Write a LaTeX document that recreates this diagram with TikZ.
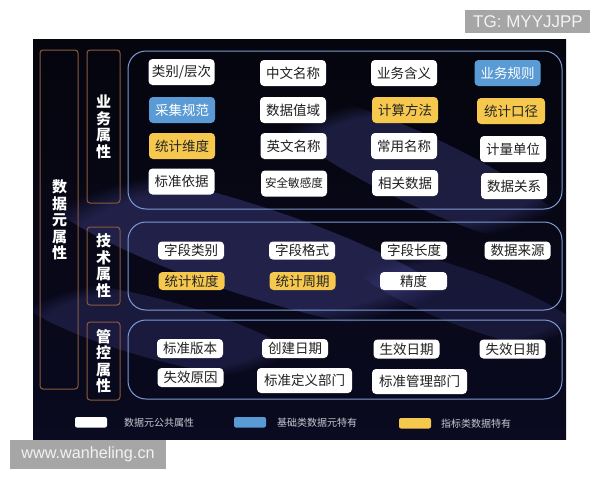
\documentclass[tikz,border=0pt]{standalone}
\usepackage{fontspec}
\setmainfont{Liberation Sans}
\newfontfamily\cjk{Noto Sans CJK SC}
\usetikzlibrary{fadings}
\definecolor{bgtop}{HTML}{05050E}
\definecolor{bgmid}{HTML}{1C1C48}
\definecolor{bgbot}{HTML}{0A0A20}
\definecolor{neb}{HTML}{5050A8}
\definecolor{panelline}{HTML}{7E9CD2}
\definecolor{brownline}{HTML}{8C5A3C}
\definecolor{pillblue}{HTML}{5B9BD5}
\definecolor{pillyellow}{HTML}{F6C84E}
\definecolor{wmgray}{HTML}{A6A6A6}
\definecolor{legtext}{HTML}{C8C8D4}
\tikzset{
  pill/.style={rectangle, rounded corners=4pt, fill=white, text=black!88, inner sep=0pt,
    minimum width=66pt, minimum height=26pt, font=\cjk\fontsize{13.5}{15}\selectfont},
  pillsm/.style={pill, minimum height=18pt},
  bluep/.style={fill=pillblue, text=white},
  yellowp/.style={fill=pillyellow, text=black!85},
  panel/.style={draw=panelline, line width=1pt, rounded corners=18pt},
  brownbox/.style={draw=brownline, line width=1pt, rounded corners=3pt},
  vlabel/.style={text=white, align=center, inner sep=0pt,
    font=\cjk\bfseries\fontsize{15}{16.5}\selectfont},
  swatch/.style={rounded corners=2pt},
  legtxt/.style={text=legtext, anchor=west, inner sep=0pt, font=\cjk\fontsize{10}{12}\selectfont},
  wmbox/.style={fill=wmgray},
  wmtext/.style={text=white!95!black, inner sep=0pt}
}
\begin{document}
\begin{tikzpicture}[x=1pt,y=-1pt]
\useasboundingbox (0,0) rectangle (600,480);
\fill[white] (0,0) rectangle (600,480);
% dark background
\shade[top color=bgtop, middle color=bgmid, bottom color=bgbot] (33,39) rectangle (566,439);
\begin{scope}
\clip (33,39) rectangle (566,439);
\fill[neb, opacity=.35, path fading=circle with fuzzy edge 20 percent, rotate around={-18:(250,250)}] (250,250) ellipse [x radius=230, y radius=45];
\fill[neb, opacity=.30, path fading=circle with fuzzy edge 20 percent, rotate around={-25:(420,170)}] (420,170) ellipse [x radius=170, y radius=35];
\fill[neb, opacity=.25, path fading=circle with fuzzy edge 20 percent, rotate around={-15:(160,330)}] (160,330) ellipse [x radius=150, y radius=30];
\fill[neb, opacity=.22, path fading=circle with fuzzy edge 20 percent, rotate around={-20:(470,300)}] (470,300) ellipse [x radius=130, y radius=28];
\end{scope}

% left labels
\draw[brownbox] (40,50) rectangle (78,389);
\node[vlabel] (lmeta) at (59.5,220) {数\\据\\元\\属\\性};
\draw[brownbox] (87,50) rectangle (120,203);
\node[vlabel] (lbiz) at (103.5,127) {业\\务\\属\\性};
\draw[brownbox] (87,227) rectangle (120,305);
\node[vlabel] (ltech) at (103.5,266) {技\\术\\属\\性};
\draw[brownbox] (87,322) rectangle (120,400);
\node[vlabel] (lmgmt) at (103.5,361) {管\\控\\属\\性};

% panels
\draw[panel] (128,51) rectangle (562,209);
\draw[panel] (128,222) rectangle (562,310);
\draw[panel] (128,320) rectangle (562,399);

% panel 1
\node[pill] (a11) at (181.5,72) {类别/层次};
\node[pill] (a12) at (293,73) {中文名称};
\node[pill] (a13) at (404,73) {业务含义};
\node[pill, bluep] (a14) at (507.5,73) {业务规则};
\node[pill, bluep] (a21) at (182,110) {采集规范};
\node[pill] (a22) at (293,110) {数据值域};
\node[pill, yellowp] (a23) at (405,110) {计算方法};
\node[pill, yellowp, minimum width=68pt] (a24) at (511,111) {统计口径};
\node[pill, yellowp] (a31) at (182,146) {统计维度};
\node[pill] (a32) at (293.5,146) {英文名称};
\node[pill] (a33) at (404,146) {常用名称};
\node[pill] (a34) at (513,149) {计量单位};
\node[pill] (a41) at (181.5,181.5) {标准依据};
\node[pill, font=\cjk\fontsize{11.6}{13}\selectfont] (a42) at (294,183.5) {安全敏感度};
\node[pill] (a43) at (405,183) {相关数据};
\node[pill] (a44) at (514,186) {数据关系};

% panel 2
\node[pillsm] (b11) at (191,250.5) {字段类别};
\node[pillsm] (b12) at (302,250.5) {字段格式};
\node[pillsm] (b13) at (414,250.5) {字段长度};
\node[pillsm] (b14) at (517.5,250.5) {数据来源};
\node[pillsm, yellowp] (b21) at (191.5,281) {统计粒度};
\node[pillsm, yellowp] (b22) at (302.5,281) {统计周期};
\node[pillsm, minimum width=67pt] (b23) at (413.5,281) {精度};

% panel 3
\node[pillsm, minimum height=19pt] (c11) at (190,348.5) {标准版本};
\node[pillsm, minimum height=19pt] (c12) at (295,348.5) {创建日期};
\node[pillsm, minimum height=19pt] (c13) at (406.5,349) {生效日期};
\node[pillsm, minimum height=19pt] (c14) at (512.5,349) {失效日期};
\node[pillsm, minimum height=19pt] (c21) at (190.5,377.5) {失效原因};
\node[pill, minimum width=95pt, minimum height=25pt] (c22) at (304.5,380.5) {标准定义部门};
\node[pill, minimum width=95pt, minimum height=25pt] (c23) at (419.5,381.5) {标准管理部门};

% legend
\fill[white, swatch] (75,417) rectangle (107,427.5);
\node[legtxt] (g1) at (124,423) {数据元公共属性};
\fill[pillblue, swatch] (234,417) rectangle (266,427.5);
\node[legtxt] (g2) at (277,423) {基础类数据元特有};
\fill[pillyellow, swatch] (399,418) rectangle (431,428.5);
\node[legtxt] (g3) at (441,423.5) {指标类数据特有};

% watermarks
\fill[wmbox] (465,10) rectangle (590,33);
\node[wmtext, font=\fontsize{17}{19}\selectfont] (wm1) at (528,21.5) {TG: MYYJJPP};
\fill[wmbox] (10,440) rectangle (166,469);
\node[wmtext, font=\fontsize{16.2}{18}\selectfont] (wm2) at (88,454.5) {www.wanheling.cn};
\end{tikzpicture}
\end{document}
